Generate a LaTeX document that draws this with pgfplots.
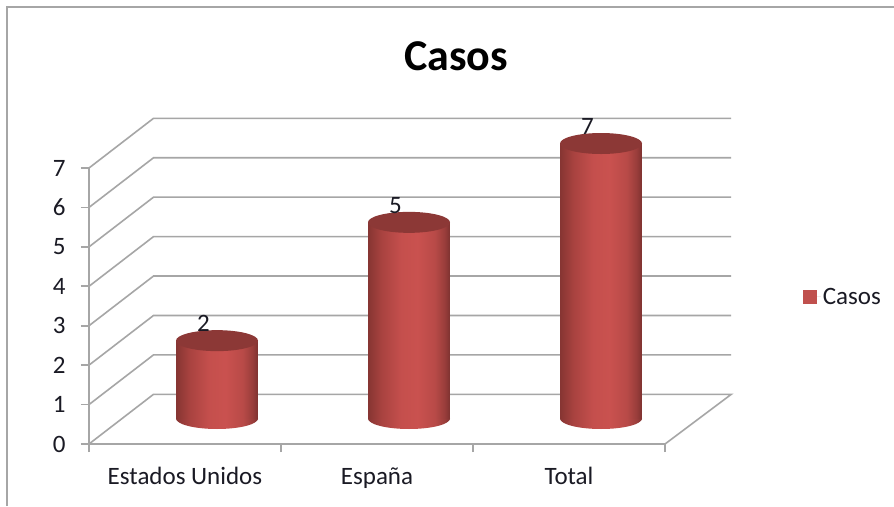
\documentclass[border=0pt]{standalone}
\usepackage{fontspec}
\setmainfont{Carlito}
\usepackage{pgfplots}
\pgfplotsset{compat=1.18}
\definecolor{gridc}{HTML}{A6A6A6}
\definecolor{txtc}{HTML}{1A1A24}
\definecolor{barc}{HTML}{C0504D}
\definecolor{topc}{HTML}{8C3836}
\pgfdeclarehorizontalshading{cyl}{100bp}{
  rgb(0bp)=(0.53,0.21,0.20);
  rgb(25bp)=(0.53,0.21,0.20);
  rgb(33bp)=(0.66,0.26,0.25);
  rgb(45bp)=(0.77,0.31,0.30);
  rgb(55bp)=(0.79,0.32,0.31);
  rgb(66bp)=(0.72,0.29,0.28);
  rgb(72bp)=(0.60,0.24,0.23);
  rgb(75bp)=(0.50,0.20,0.19);
  rgb(100bp)=(0.50,0.20,0.19)}
\pgfdeclareplotmark{cyltop}{%
  \fill[topc,draw=none,rotate=4] (0,0) ellipse (41pt and 10.5pt);}
\pgfdeclareplotmark{cylbase}{%
  \path[shade,shading=cyl,draw=none,rotate=4] (-41pt,1pt) arc[start angle=180,end angle=360,x radius=41pt,y radius=10.5pt] -- (41pt,1pt) -- cycle;}
\begin{document}
\begin{tikzpicture}
\useasboundingbox (-89pt,-62pt) rectangle (805pt,444pt);
\fill[white] (-89pt,-62pt) rectangle (805pt,444pt);
\draw[gridc,line width=1.4pt] (-82pt,-62pt) -- (-82pt,437pt) -- (805pt,437pt);
\begin{axis}[
  name=main, at={(0pt,0pt)}, anchor=south west,
  scale only axis, width=576pt, height=276pt,
  xmin=0, xmax=3, ymin=0, ymax=7, clip=false,
  axis x line=bottom, axis y line=left,
  axis line style={-, gridc, line width=1.6pt},
  xtick={0,1,2,3}, x tick label as interval,
  xticklabels={Estados Unidos, España, Total},
  ytick={0,1,2,3,4,5,6,7},
  tick style={gridc, line width=1.6pt},
  major tick length=8pt,
  tick align=outside,
  /pgf/number format/assume math mode=true,
  tick label style={font=\fontsize{25}{27}\selectfont, text=txtc},
  xticklabel style={yshift=-12pt},
  yticklabel style={xshift=-12pt},
  title={\textbf{Casos}},
  title style={at={(axis description cs:0.637,1.385)}, anchor=center,
    font=\fontsize{44}{48}\selectfont, text=black},
  legend style={at={(axis description cs:1.239,0.533)}, anchor=west, draw=none, fill=none,
    font=\fontsize{25}{27}\selectfont, text=txtc, inner sep=0pt,
    legend cell align=left},
  legend image code/.code={\fill[#1] (0pt,-7pt) rectangle (14pt,7pt); \path (0pt,0pt) -- (18pt,0pt);},
]
\addlegendimage{fill=barc, draw=none}
\addlegendentry{Casos}
\addplot[gridc, line width=1.6pt, forget plot] coordinates {(0,0) (0.336,1.26) (3.345,1.26) (3,0)};
\addplot[gridc, line width=1.6pt, forget plot] coordinates {(0,1) (0.336,2.26) (3.345,2.26)};
\addplot[gridc, line width=1.6pt, forget plot] coordinates {(0,2) (0.336,3.26) (3.345,3.26)};
\addplot[gridc, line width=1.6pt, forget plot] coordinates {(0,3) (0.336,4.26) (3.345,4.26)};
\addplot[gridc, line width=1.6pt, forget plot] coordinates {(0,4) (0.336,5.26) (3.345,5.26)};
\addplot[gridc, line width=1.6pt, forget plot] coordinates {(0,5) (0.336,6.26) (3.345,6.26)};
\addplot[gridc, line width=1.6pt, forget plot] coordinates {(0,6) (0.336,7.26) (3.345,7.26)};
\addplot[gridc, line width=1.6pt, forget plot] coordinates {(0,7) (0.336,8.26) (3.345,8.26)};
\end{axis}
\begin{axis}[
  at={(32pt,24.5pt)}, anchor=south west,
  scale only axis, width=576pt, height=276pt,
  xmin=0, xmax=3, ymin=0, ymax=7, clip=false,
  hide axis,
  /pgf/number format/assume math mode=true,
]
\addplot[only marks, mark=cylbase, forget plot] coordinates {(0.5,0) (1.5,0) (2.5,0)};
\addplot[ybar, bar width=81pt, draw=none, shade, shading=cyl, forget plot] coordinates {(0.5,2)};
\addplot[ybar, bar width=81pt, draw=none, shade, shading=cyl, forget plot] coordinates {(1.5,5)};
\addplot[ybar, bar width=81pt, draw=none, shade, shading=cyl, forget plot] coordinates {(2.5,7)};
\addplot[only marks, mark=cyltop, forget plot,
  nodes near coords,
  nodes near coords align={center},
  every node near coord/.append style={anchor=center, xshift=-13.5pt, yshift=17pt,
    font=\fontsize{25}{27}\selectfont, text=txtc},
  point meta=y] coordinates {(0.5,2) (1.5,5) (2.5,7)};
\end{axis}
\end{tikzpicture}
\end{document}
